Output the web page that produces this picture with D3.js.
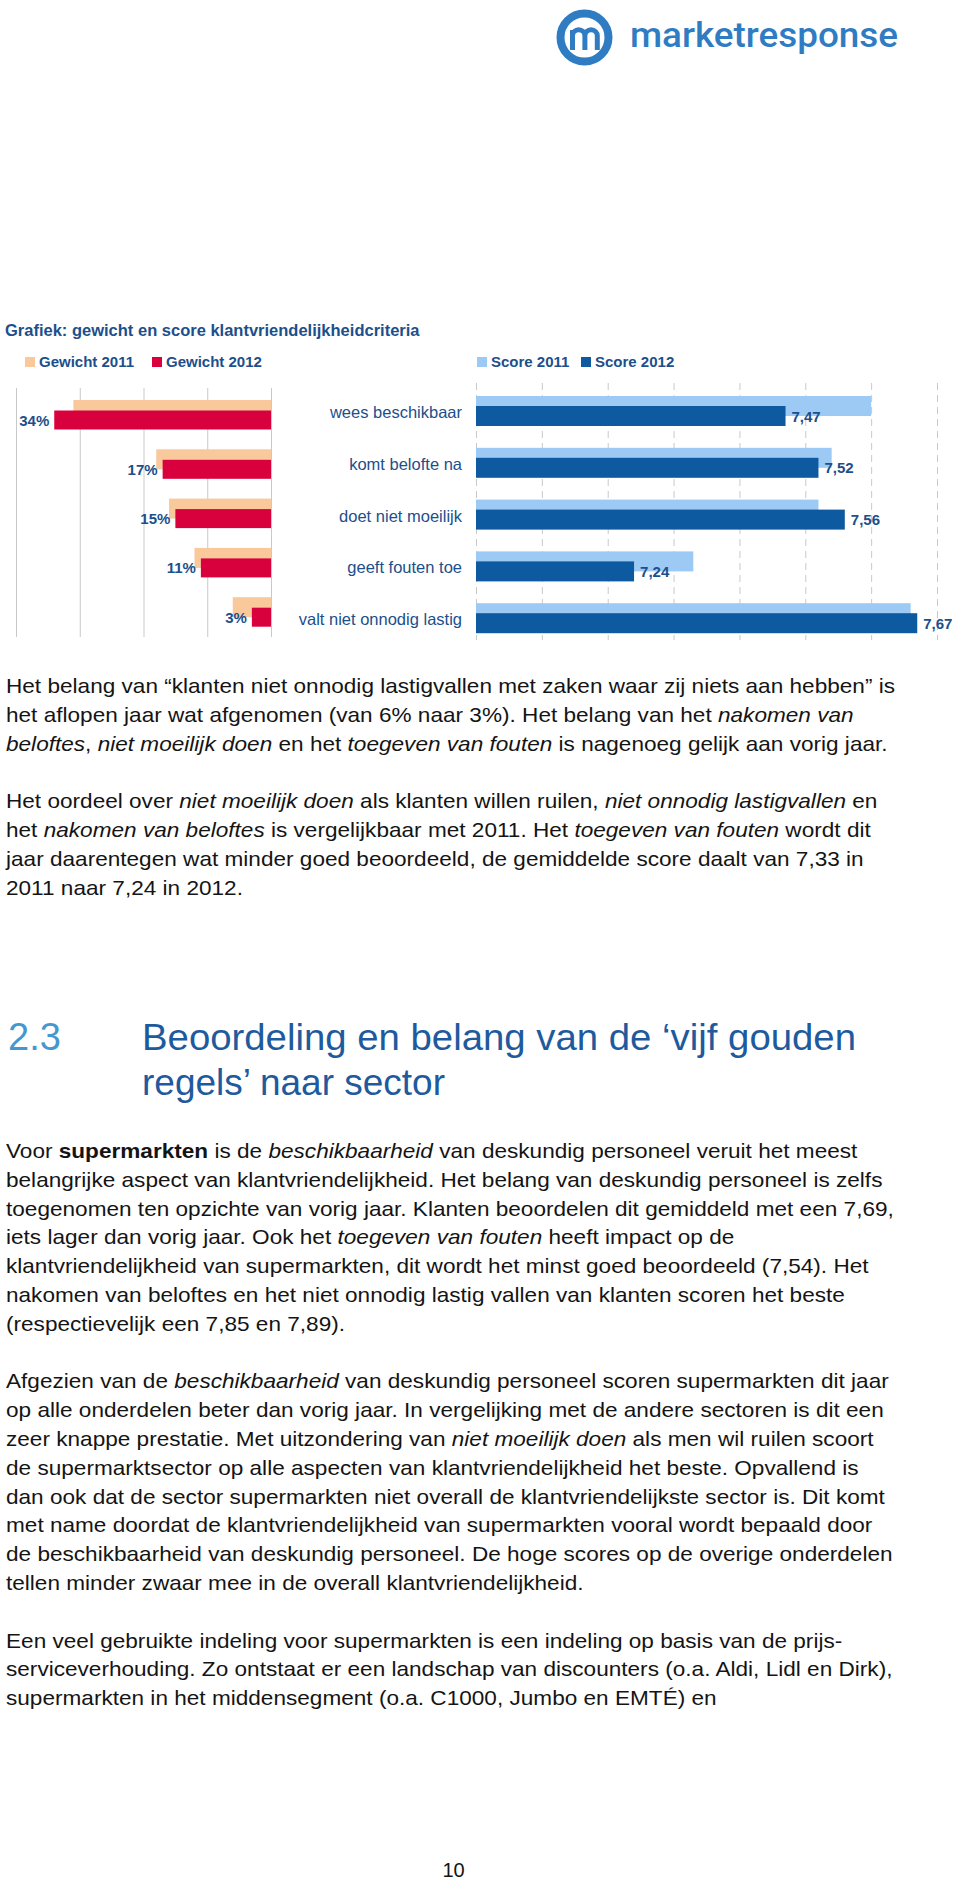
<!DOCTYPE html>
<html><head><meta charset="utf-8">
<script src="https://cdn.jsdelivr.net/npm/d3@7"></script>
<style>
html,body{margin:0;padding:0;background:#fff;}
svg{display:block;font-family:"Liberation Sans",Arial,Helvetica,sans-serif;}
</style></head><body>
<svg id="page" width="960" height="1881"></svg>
<script>
// ---------- chart data ----------
const categories = ["wees beschikbaar","komt belofte na","doet niet moeilijk","geeft fouten toe","valt niet onnodig lastig"];
const gewicht2011 = [31, 18, 16, 12, 6];
const gewicht2012 = [34, 17, 15, 11, 3];
const score2011 = [7.60, 7.54, 7.52, 7.33, 7.66];
const score2012 = [7.47, 7.52, 7.56, 7.24, 7.67];
const gewichtTicks = [0, 10, 20, 30, 40];
const scoreTicks = [7.0, 7.1, 7.2, 7.3, 7.4, 7.5, 7.6, 7.7];
const legendLeft = ["Gewicht 2011", "Gewicht 2012"];
const legendRight = ["Score 2011", "Score 2012"];
const chartTitle = "Grafiek: gewicht en score klantvriendelijkheidcriteria";

// ---------- page text (segments: [text, style]) ----------
const para1 = [
  [["Het belang van “klanten niet onnodig lastigvallen met zaken waar zij niets aan hebben” is",""]],
  [["het aflopen jaar wat afgenomen (van 6% naar 3%). Het belang van het ",""],["nakomen van","i"]],
  [["beloftes","i"],[", ",""],["niet moeilijk doen","i"],[" en het ",""],["toegeven van fouten","i"],[" is nagenoeg gelijk aan vorig jaar.",""]]
];
const para2 = [
  [["Het oordeel over ",""],["niet moeilijk doen","i"],[" als klanten willen ruilen, ",""],["niet onnodig lastigvallen","i"],[" en",""]],
  [["het ",""],["nakomen van beloftes","i"],[" is vergelijkbaar met 2011. Het ",""],["toegeven van fouten","i"],[" wordt dit",""]],
  [["jaar daarentegen wat minder goed beoordeeld, de gemiddelde score daalt van 7,33 in",""]],
  [["2011 naar 7,24 in 2012.",""]]
];
const para3 = [
  [["Voor ",""],["supermarkten","b"],[" is de ",""],["beschikbaarheid","i"],[" van deskundig personeel veruit het meest",""]],
  [["belangrijke aspect van klantvriendelijkheid. Het belang van deskundig personeel is zelfs",""]],
  [["toegenomen ten opzichte van vorig jaar. Klanten beoordelen dit gemiddeld met een 7,69,",""]],
  [["iets lager dan vorig jaar. Ook het ",""],["toegeven van fouten","i"],[" heeft impact op de",""]],
  [["klantvriendelijkheid van supermarkten, dit wordt het minst goed beoordeeld (7,54). Het",""]],
  [["nakomen van beloftes en het niet onnodig lastig vallen van klanten scoren het beste",""]],
  [["(respectievelijk een 7,85 en 7,89).",""]]
];
const para4 = [
  [["Afgezien van de ",""],["beschikbaarheid","i"],[" van deskundig personeel scoren supermarkten dit jaar",""]],
  [["op alle onderdelen beter dan vorig jaar. In vergelijking met de andere sectoren is dit een",""]],
  [["zeer knappe prestatie. Met uitzondering van ",""],["niet moeilijk doen","i"],[" als men wil ruilen scoort",""]],
  [["de supermarktsector op alle aspecten van klantvriendelijkheid het beste. Opvallend is",""]],
  [["dan ook dat de sector supermarkten niet overall de klantvriendelijkste sector is. Dit komt",""]],
  [["met name doordat de klantvriendelijkheid van supermarkten vooral wordt bepaald door",""]],
  [["de beschikbaarheid van deskundig personeel. De hoge scores op de overige onderdelen",""]],
  [["tellen minder zwaar mee in de overall klantvriendelijkheid.",""]]
];
const para5 = [
  [["Een veel gebruikte indeling voor supermarkten is een indeling op basis van de prijs-",""]],
  [["serviceverhouding. Zo ontstaat er een landschap van discounters (o.a. Aldi, Lidl en Dirk),",""]],
  [["supermarkten in het middensegment (o.a. C1000, Jumbo en EMTÉ) en",""]]
];

const C = {
  orange: "#f9c89b", red: "#d8003d", light: "#9ccaf4", dark: "#0d5aa0",
  navy: "#1c4f8b", grid: "#c9c9c9", logo: "#2f7cc3", body: "#141414",
  h1: "#4697d0", h2: "#1e5a9d"
};

const svg = d3.select("#page");

// ---------- logo ----------
const logo = svg.append("g");
logo.append("circle").attr("cx", 584.5).attr("cy", 37.5).attr("r", 24)
  .attr("fill", "none").attr("stroke", C.logo).attr("stroke-width", 8);
logo.append("path")
  .attr("d", "M572.5,50 V30 M572.5,36 a6.2,6.2 0 0 1 12.4,0 V50 M584.9,36 a6.2,6.2 0 0 1 12.4,0 V50")
  .attr("fill", "none").attr("stroke", C.logo).attr("stroke-width", 5);
logo.append("text").attr("x", 630).attr("y", 47).text("marketresponse")
  .attr("font-family", "Roboto, 'Liberation Sans', sans-serif")
  .attr("font-size", 35).attr("font-weight", 500).attr("fill", C.logo)
  .attr("textLength", 268).attr("lengthAdjust", "spacingAndGlyphs");

// ---------- chart title + legend ----------
svg.append("text").attr("x", 5).attr("y", 336).text(chartTitle)
  .attr("font-size", 16.5).attr("font-weight", "bold").attr("fill", C.navy);

const legendItems = [
  {name: legendLeft[0], color: C.orange, x: 25},
  {name: legendLeft[1], color: C.red, x: 152},
  {name: legendRight[0], color: C.light, x: 477},
  {name: legendRight[1], color: C.dark, x: 581}
];
const lg = svg.append("g").selectAll("g").data(legendItems).join("g")
  .attr("transform", d => `translate(${d.x},357)`);
lg.append("rect").attr("width", 10).attr("height", 10).attr("fill", d => d.color);
lg.append("text").attr("x", 14).attr("y", 10).text(d => d.name)
  .attr("font-size", 15).attr("font-weight", "bold").attr("fill", C.navy);

// ---------- left chart: gewicht ----------
const xLeft = d3.scaleLinear().domain([0, 40]).range([271, 16]);
const yLeft = d3.scaleBand().domain(categories).range([400, 400 + 5 * 49.3]).padding(0);

const gl = svg.append("g").attr("transform", "translate(0,388)")
  .call(d3.axisTop(xLeft).tickValues(gewichtTicks).tickSize(-249).tickFormat(""));
gl.select(".domain").remove();
gl.selectAll(".tick line").attr("stroke", C.grid).attr("stroke-width", 1);

const leftData = categories.map((c, i) => ({c, v11: gewicht2011[i], v12: gewicht2012[i]}));
svg.append("g").selectAll("rect").data(leftData).join("rect")
  .attr("x", d => xLeft(d.v11)).attr("y", d => yLeft(d.c))
  .attr("width", d => xLeft(0) - xLeft(d.v11)).attr("height", 20).attr("fill", C.orange);
svg.append("g").selectAll("rect").data(leftData).join("rect")
  .attr("x", d => xLeft(d.v12)).attr("y", d => yLeft(d.c) + 10.5)
  .attr("width", d => xLeft(0) - xLeft(d.v12)).attr("height", 19).attr("fill", C.red);
svg.append("g").selectAll("text").data(leftData).join("text")
  .attr("x", d => xLeft(d.v12) - 5).attr("y", d => yLeft(d.c) + 10.5 + 9.5 + 5.5)
  .attr("text-anchor", "end").attr("font-size", 15).attr("font-weight", "bold")
  .attr("fill", C.navy).text(d => d.v12 + "%");

// ---------- right chart: score ----------
const xRight = d3.scaleLinear().domain([7.0, 7.7]).range([476, 937]);
const yRight = d3.scaleBand().domain(categories).range([396, 396 + 5 * 51.8]).padding(0);

const gr = svg.append("g").attr("transform", "translate(0,383)")
  .call(d3.axisTop(xRight).tickValues(scoreTicks).tickSize(-257).tickFormat(""));
gr.select(".domain").remove();
gr.selectAll(".tick line").attr("stroke", C.grid).attr("stroke-width", 1)
  .attr("stroke-dasharray", "7,5");

const rightData = categories.map((c, i) => ({c, v11: score2011[i], v12: score2012[i]}));
svg.append("g").selectAll("rect").data(rightData).join("rect")
  .attr("x", xRight(7.0)).attr("y", d => yRight(d.c))
  .attr("width", d => xRight(d.v11) - xRight(7.0)).attr("height", 20).attr("fill", C.light);
svg.append("g").selectAll("rect").data(rightData).join("rect")
  .attr("x", xRight(7.0)).attr("y", d => yRight(d.c) + 10)
  .attr("width", d => xRight(d.v12) - xRight(7.0)).attr("height", 20).attr("fill", C.dark);
const fmt = d3.format(".2f");
svg.append("g").selectAll("text").data(rightData).join("text")
  .attr("x", d => xRight(d.v12) + 6).attr("y", d => yRight(d.c) + 10 + 10 + 5.5)
  .attr("font-size", 15).attr("font-weight", "bold").attr("fill", C.navy)
  .text(d => fmt(d.v12).replace(".", ","));

// category labels
svg.append("g").selectAll("text").data(categories).join("text")
  .attr("x", 462).attr("y", d => yRight(d) + 22).attr("text-anchor", "end")
  .attr("font-size", 16.5).attr("fill", C.navy).text(d => d);

// ---------- body text ----------
const SX = 1.13, FS = 20, LH = 28.8, X0 = 6;
function paragraph(lines, y0) {
  lines.forEach((segs, k) => {
    const t = svg.append("text")
      .attr("transform", `translate(${X0},${y0 + k * LH}) scale(${SX},1)`)
      .attr("font-size", FS).attr("fill", C.body);
    segs.forEach(([s, st]) => {
      const ts = t.append("tspan").text(s);
      if (st === "i") ts.attr("font-style", "italic");
      if (st === "b") ts.attr("font-weight", "bold");
    });
  });
}
paragraph(para1, 693);
paragraph(para2, 693 + 4 * LH);
paragraph(para3, 1158);
paragraph(para4, 1158 + 8 * LH);
paragraph(para5, 1158 + 17 * LH);

// ---------- heading ----------
svg.append("text").attr("x", 8).attr("y", 1050).text("2.3")
  .attr("font-size", 38).attr("fill", C.h1);
svg.append("text").attr("x", 142).attr("y", 1050).text("Beoordeling en belang van de ‘vijf gouden")
  .attr("font-size", 37).attr("fill", C.h2).attr("textLength", 714).attr("lengthAdjust", "spacingAndGlyphs");
svg.append("text").attr("x", 142).attr("y", 1095).text("regels’ naar sector")
  .attr("font-size", 37).attr("fill", C.h2);

// page number
svg.append("text").attr("x", 453.5).attr("y", 1877).attr("text-anchor", "middle")
  .attr("font-size", 20).attr("fill", C.body).text("10");
</script>
</body></html>
